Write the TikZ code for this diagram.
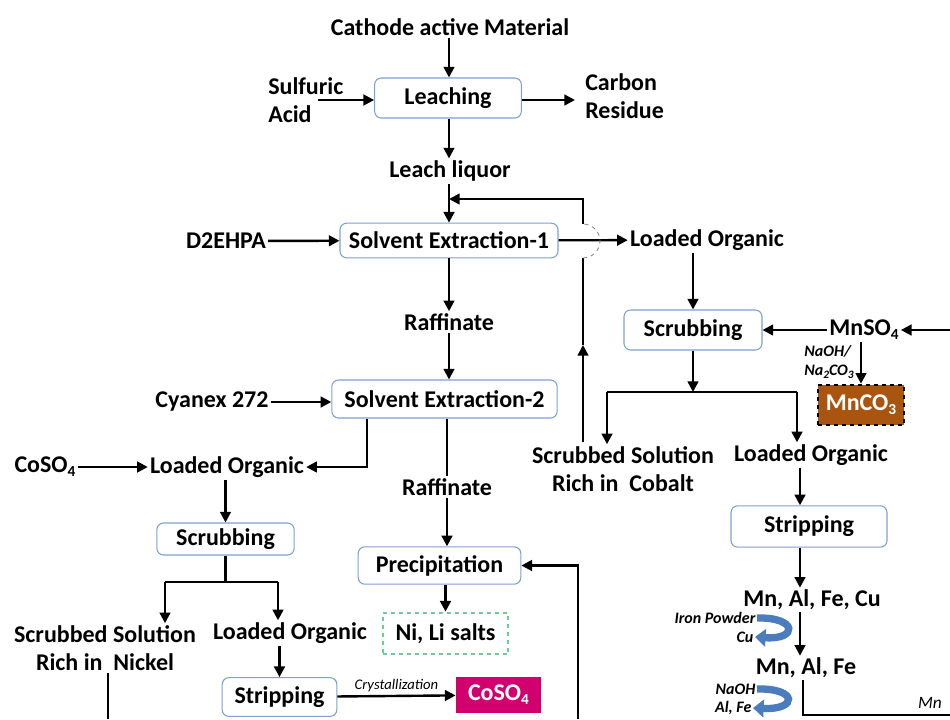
\documentclass[tikz,border=0pt]{standalone}
\usepackage{fontspec}
\setmainfont{Carlito}
\usetikzlibrary{arrows.meta,calc}
\definecolor{boxblue}{RGB}{125,160,210}
\definecolor{saltgreen}{RGB}{110,205,145}
\definecolor{mnbrown}{RGB}{170,85,15}
\definecolor{comag}{RGB}{210,0,110}
\definecolor{arrblue}{RGB}{75,125,190}
\newcommand\lowsub[1]{\raisebox{-0.35ex}{\fontsize{11.5}{11.5}\selectfont #1}}
\newcommand\lowsubs[1]{\raisebox{-0.35ex}{\fontsize{8.5}{8.5}\selectfont #1}}
\tikzset{
  lbl/.style={font=\bfseries\fontsize{18}{21}\selectfont, inner sep=1.5pt, align=center},
  box/.style={draw=boxblue, line width=0.8pt, rounded corners=5pt, fill=white,
              font=\bfseries\fontsize{18}{21}\selectfont, inner sep=0pt},
  arr/.style={line width=1.8pt, -{Triangle[length=8pt,width=8pt]}},
  ln/.style={line width=1.8pt},
  sm/.style={font=\itshape\fontsize{11}{13}\selectfont, inner sep=1pt},
  smb/.style={font=\bfseries\itshape\fontsize{12}{14}\selectfont, inner sep=1pt, align=left},
  bluearr/.style={line width=5.5pt, arrblue, -{Triangle[length=8pt,width=13pt]}}
}
\begin{document}
\begin{tikzpicture}[x=0.75pt,y=-0.75pt]
\useasboundingbox (0,0) rectangle (950,719);
% ---------- top ----------
\node[lbl] (cam) at (450,27) {Cathode active Material};
\node[box, minimum width=110pt, minimum height=30pt] (leach) at (448,98) {Leaching};
\node[lbl, align=left, anchor=west] (sa) at (266,100) {Sulfuric\\Acid};
\node[lbl, align=left, anchor=west] (cr) at (583,96) {Carbon\\Residue};
\node[lbl] (ll) at (450,171) {Leach liquor};
\node[box, minimum width=163.5pt, minimum height=26pt] (sx1) at (449,240.5) {Solvent Extraction-1};
\node[lbl] (d2) at (226,241) {D2EHPA};
\node[lbl] (lo1) at (707,240) {Loaded Organic};
\coordinate (saout) at (318,100);
\coordinate (crin) at (575,100);
\coordinate (cx) at (449,0);
\draw[arr] (cam.south -| cx) -- (leach.north -| cx);
\draw[arr] (saout) -- (saout -| leach.west);
\draw[arr] (leach.east |- crin) -- (crin);
\draw[arr] (leach.south -| cx) -- (ll.north -| cx);
\draw[arr] (ll.south -| cx) -- (sx1.north -| cx);
\draw[arr] (d2) -- (sx1);
\draw[arr] (sx1) -- (lo1);
% recycle with crossing
\coordinate (rb) at (583,442);
\coordinate (rm) at (583,345);
\coordinate (rlo) at (583,258);
\coordinate (rhi) at (583,224);
\coordinate (rtop) at (583,199);
\draw[arr] (rb) -- (rm);
\draw[ln] (rm) -- (rlo);
\draw[gray, dashed, line width=0.6pt] (rlo) arc[start angle=-90, end angle=90, radius=12.75pt];
\draw[arr] (rhi) -- (rtop) -- (rtop -| cx);
% ---------- right branch ----------
\node[box, minimum width=103.5pt, minimum height=30pt] (scr) at (693,330) {Scrubbing};
\node[lbl] (mnso4) at (864,330) {MnSO\lowsub{4}};
\node[smb] (naoh1) at (829,362) {NaOH/\\Na\lowsubs{2}CO\lowsubs{3}};
\node[draw=black, dashed, line width=2pt, fill=mnbrown, text=white,
      font=\bfseries\fontsize{18}{21}\selectfont, minimum width=64.5pt, minimum height=30pt,
      inner sep=0pt] (mnco3) at (861,405) {MnCO\lowsub{3}};
\coordinate (re) at (950,330);
\draw[arr] (lo1.south -| scr) -- (scr.north);
\draw[arr] (mnso4) -- (scr);
\draw[arr] (re) -- (mnso4);
\draw[arr] (mnso4.south -| mnco3) -- (mnco3.north);
\node[lbl] (ssc) at (623,469) {Scrubbed Solution\\Rich in\ \ Cobalt};
\node[lbl] (lo2) at (811,455) {Loaded Organic};
\coordinate (rl) at (607,392);
\coordinate (rr) at (797,392);
\draw[arr] (scr.south) -- (scr.south |- rl);
\draw[ln] (rl) -- (rr);
\draw[arr] (rl) -- (rl |- ssc.north);
\draw[arr] (rr) -- (rr |- lo2.north);
\coordinate (ax) at (800,0);
\node[box, minimum width=117pt, minimum height=31pt] (str) at (809,526.5) {Stripping};
\node[lbl] (m1) at (812,600) {Mn, Al, Fe, Cu};
\node[lbl] (m2) at (806,668) {Mn, Al, Fe};
\draw[arr] (lo2.south -| ax) -- (str.north -| ax);
\draw[arr] (str.south -| ax) -- (m1.north -| ax);
\draw[arr] (m1.south -| ax) -- (m2.north -| ax);
\node[smb, anchor=east] (ip) at (757,618) {Iron Powder};
\node[smb, anchor=east] (cu) at (755,637) {Cu};
\node[smb, anchor=east] (naoh2) at (757,689) {NaOH};
\node[smb, anchor=east] (alfe) at (753,708) {Al, Fe};
\draw[bluearr] (ip.east) .. controls (798,617) and (798,640) .. (cu.east);
\draw[bluearr] (naoh2.east) .. controls (798,688) and (798,710) .. (alfe.east);
\coordinate (mnx) at (803,0);
\coordinate (mnend) at (950,715);
\draw[ln] (m2.south -| mnx) -- (mnx |- mnend) -- (mnend);
\node[font=\itshape\fontsize{13}{15}\selectfont] (mn) at (930,703) {Mn};
% ---------- left branch ----------
\node[lbl] (raf1) at (449,322) {Raffinate};
\node[box, minimum width=169pt, minimum height=28.5pt] (sx2) at (444.5,399) {Solvent Extraction-2};
\node[lbl] (cy) at (212,402) {Cyanex 272};
\node[lbl] (lo3) at (227,467) {Loaded Organic};
\node[lbl] (coso4a) at (45,467) {CoSO\lowsub{4}};
\node[lbl] (raf2) at (447,487) {Raffinate};
\draw[arr] (sx1.south -| raf1) -- (raf1);
\draw[arr] (raf1) -- (raf1 |- sx2.north);
\draw[arr] (cy) -- (cy -| sx2.west);
\coordinate (bx) at (367,0);
\draw[arr] (sx2.south -| bx) |- (lo3);
\draw[arr] (coso4a) -- (lo3);
\draw[ln] (sx2.south -| raf2) -- (raf2.north);
\node[box, minimum width=122pt, minimum height=28pt] (prec) at (439.5,565.5) {Precipitation};
\node[draw=saltgreen, dashed, line width=1.8pt, font=\bfseries\fontsize{18}{21}\selectfont,
      minimum width=94pt, minimum height=31pt, inner sep=0pt] (nili) at (445.5,633.5) {Ni, Li salts};
\draw[arr] (raf2) -- (raf2 |- prec.north);
\draw[arr] (prec.south -| nili.north) -- (nili.north);
\coordinate (pb) at (578,719);
\draw[arr] (pb) |- (prec.east);
\node[box, minimum width=103pt, minimum height=24pt] (scrL) at (225.5,539) {Scrubbing};
\draw[arr] (lo3.south -| scrL) -- (scrL);
\node[lbl] (ssn) at (105,648) {Scrubbed Solution\\Rich in\ \ Nickel};
\node[lbl] (lo4) at (290,633) {Loaded Organic};
\coordinate (ll1) at (165,582);
\coordinate (lr1) at (278,582);
\draw[ln] (scrL.south) -- (scrL.south |- ll1);
\draw[ln] (ll1) -- (lr1);
\draw[arr] (ll1) -- (ll1 |- ssn.north);
\draw[arr] (lr1) -- (lr1 |- lo4.north);
\node[box, minimum width=86pt, minimum height=29pt] (strL) at (279.5,697) {Stripping};
\node[fill=comag, text=white, font=\bfseries\fontsize{18}{21}\selectfont,
      minimum width=64pt, minimum height=27pt, inner sep=0pt] (coso4b) at (498.5,695) {CoSO\lowsub{4}};
\draw[arr] (lo4.south -| strL) -- (strL);
\draw[arr] (strL) -- node[sm, above=1pt] (cryst) {Crystallization} (coso4b);
\coordinate (nb) at (108,719);
\draw[ln] (ssn.south -| nb) -- (nb);
\end{tikzpicture}
\end{document}
